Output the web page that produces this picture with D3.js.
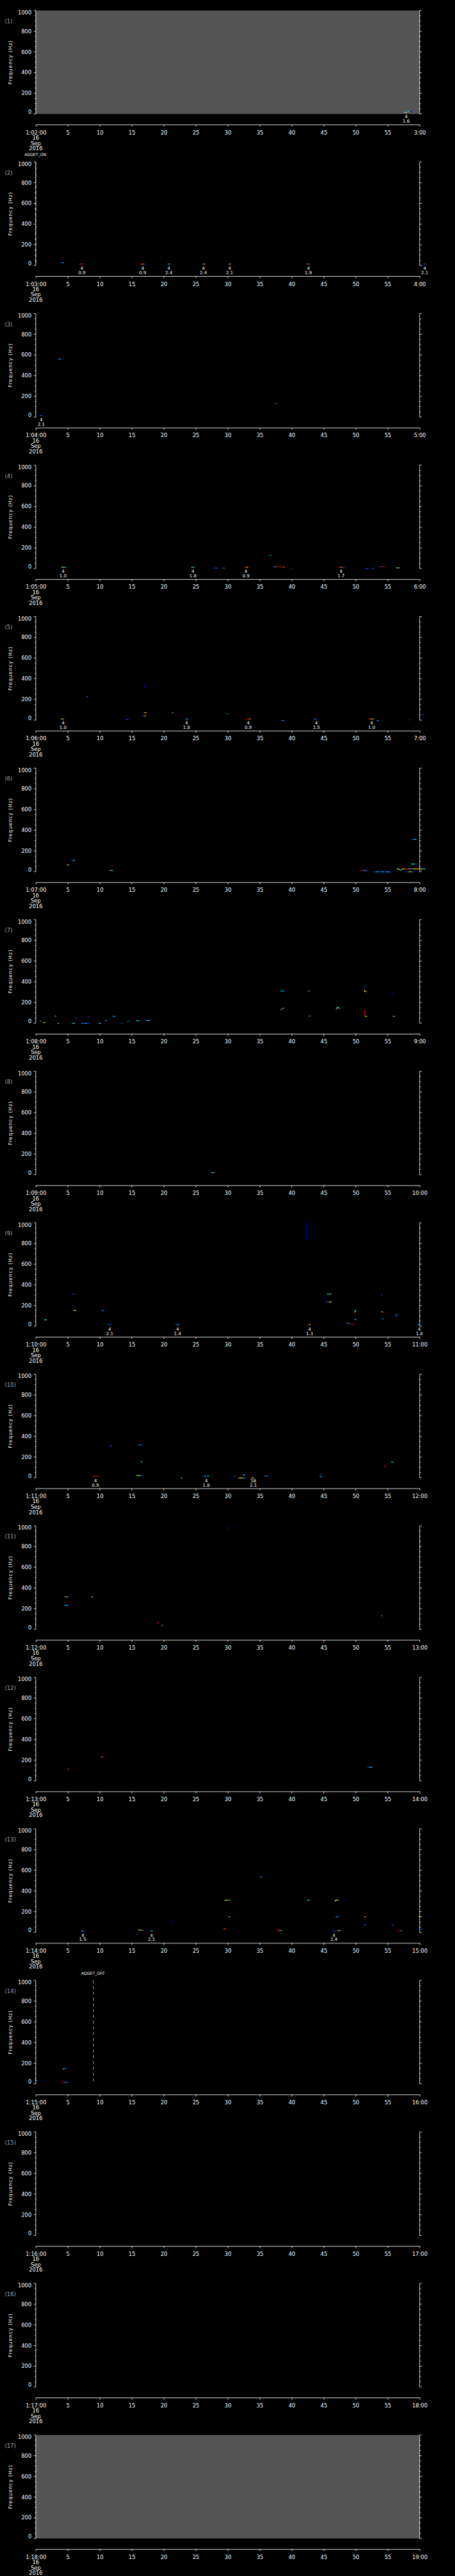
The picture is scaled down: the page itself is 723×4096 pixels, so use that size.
<!DOCTYPE html>
<html>
<head>
<meta charset="utf-8">
<script src="https://cdn.jsdelivr.net/npm/d3@7"></script>
<style>
  html, body { margin: 0; padding: 0; background: #000; }
  svg { display: block; background: #000; }
  text { font-family: "DejaVu Sans", sans-serif; fill: #fff; }
</style>
</head>
<body>
<svg id="chart"></svg>
<script>
// --------------------
// Data
// --------------------
// minute labels at each end of the 17 one-minute panels
const startLabels = ["1:02:00","1:03:00","1:04:00","1:05:00","1:06:00","1:07:00","1:08:00","1:09:00",
  "1:10:00","1:11:00","1:12:00","1:13:00","1:14:00","1:15:00","1:16:00","1:17:00","1:18:00"];
const endLabels = ["3:00","4:00","5:00","6:00","7:00","8:00","9:00","10:00",
  "11:00","12:00","13:00","14:00","15:00","16:00","17:00","18:00","19:00"];
const secTicks = [0, 5, 10, 15, 20, 25, 30, 35, 40, 45, 50, 55, 60];
const dateLines = ["16", "Sep", "2016"];
const freqTicks = d3.range(0, 1001, 50);
const greyPanels = [1, 17];   // panels with no data (shaded)

// tracks: [t0 (s), f0 (Hz), t1, f1, amplitude levels 0..6 along the track]
const tracks1 = [[57.5,15,58.1,15,"245"],[58.2,23,58.8,23,"210"]];
const tracks2 = [[3.9,27,4.35,27,"12"],[6.75,14,7.6,14,"661"],[16.3,14,17.1,14,"651"],[20.6,14,21.0,14,"2"],
  [26.05,14,26.5,14,"245"],[30.1,14,30.5,14,"654"],[42.3,14,42.9,14,"651"],[60.6,14,61.0,14,"1"]];
const tracks3 = [[0.63,15,1.09,15,"1"],[3.26,558,3.9,562,"012"],[37.3,131,37.8,128,"61"]];
const tracks4 = [[3.94,13,4.76,13,"342"],[24.3,13,24.8,13,"24"],[27.9,4,28.5,4,"1"],[29.2,4,29.5,4,"12"],
  [32.6,13,33.2,13,"654"],[36.5,129,36.8,129,"12"],[37.2,17,37.6,17,"12"],[37.6,20,38.4,20,"66"],
  [38.4,15,38.9,15,"65"],[39.8,0,40.0,0,"1"],[47.2,13,48.3,13,"651"],[51.5,0,52.0,0,"1"],[52.5,0,52.8,0,"1"],
  [53.7,17,54.0,17,"1"],[54.0,21,54.6,21,"6"],[56.3,7,57.0,7,"241"]];
const tracks5 = [[3.9,11,4.44,11,"435"],[7.84,225,8.1,225,"12"],[14.1,6,14.5,6,"1"],[16.7,41,17.2,41,"14"],
  [16.9,71,17.3,71,"54"],[17.0,348,17.0,305,"0"],[21.2,71,21.5,71,"653"],[23.3,11,23.8,11,"12"],
  [29.8,64,30.1,60,"21"],[32.85,11,33.6,11,"65"],[38.3,-5,38.8,-5,"12"],[43.5,11,44.0,11,"21"],
  [52.0,11,52.8,11,"654"],[53.2,-5,53.6,-5,"12"],[58.4,2,58.6,2,"1"],[60.4,52,60.7,52,"1"]];
const tracks6 = [[0.45,56,0.68,56,"0"],[4.85,70,5.17,61,"34"],[5.5,110,6.1,110,"12"],[11.4,11,12.1,11,"632"],
  [50.6,11,51.9,11,"6621"],[52.8,-2,55.6,-2,"1212121"],[56.4,32,57.2,11,"343"],[57.2,26,60.9,26,"46524542"],
  [57.8,-2,59.2,-2,"141"],[58.6,73,59.6,73,"231"],[58.7,312,59.5,312,"12"]];
const tracks7 = [[0.63,19,0.95,19,"31"],[1.13,6,1.5,6,"34"],[3.0,69,3.2,69,"43"],[3.4,-2,3.6,-2,"4"],
  [5.7,-2,6.1,-2,"23"],[6.2,45,6.4,45,"1"],[7.2,-2,8.3,-2,"2121"],[8.2,58,8.4,58,"1"],[9.8,-2,10.2,-2,"2"],
  [10.8,26,11.1,26,"12"],[11.9,66,12.4,66,"12"],[13.3,-2,13.6,-2,"1"],[14.3,19,14.6,19,"21"],
  [15.7,24,16.2,24,"32"],[17.1,27,17.9,25,"122"],
  [38.2,133,38.6,133,"56"],[38.6,133,38.6,146,"2"],[38.6,146,38.9,146,"21"],[38.2,312,38.9,309,"221"],
  [42.5,310,42.8,310,"56"],[42.8,318,42.8,300,"1"],[42.6,69,42.95,69,"12"],
  [46.8,133,47.1,133,"6"],[47.1,133,47.1,154,"3"],[47.1,154,47.4,154,"3"],[47.4,142,47.6,142,"2"],
  [51.3,354,51.6,354,"1"],[51.4,322,51.4,305,"4"],[51.4,305,51.7,305,"4"],
  [51.4,129,51.4,66,"6"],[51.4,66,51.8,66,"34"],[55.75,279,55.9,310,"0"],[55.8,66,56.1,66,"43"]];
const tracks8 = [[27.3,19,27.9,19,"124"]];
const tracks9 = [[1.3,62,1.7,62,"23"],[5.75,309,6.1,309,"1"],[5.8,152,6.3,152,"34"],[10.3,152,10.7,152,"21"],
  [11.2,15,11.8,15,"1"],[21.8,15,22.4,15,"12"],[42.3,1000,42.3,833,"0"],[42.5,15,43.0,15,"564"],
  [45.5,311,46.2,311,"23"],[45.35,234,46.26,234,"1144"],[48.5,28,49.0,28,"12"],[49.0,22,49.4,22,"66"],
  [49.4,19,49.75,19,"6"],[49.7,129,49.8,129,"6"],[49.9,133,49.9,152,"3"],[49.9,152,50.1,152,"3"],
  [49.8,68,50.2,62,"251"],[54.0,139,54.4,139,"41"],[54.0,305,54.2,305,"1"],[54.1,71,54.4,71,"21"],
  [56.1,98,56.5,114,"12"],[59.7,15,60.2,15,"21"]];
const tracks10 = [[8.9,15,9.8,15,"666"],[11.5,295,11.9,311,"01"],[15.7,21,16.7,21,"3421"],[16.1,316,16.7,316,"21"],
  [16.4,154,16.7,154,"2"],[22.65,-2,22.9,-2,"2"],[26.1,15,27.1,15,"1212"],[30.9,15,31.3,15,"1"],
  [31.6,-2,32.8,-2,"54421"],[32.35,28,32.7,28,"32"],[33.7,-2,34.1,-2,"4"],[35.8,18,36.4,15,"21"],
  [44.3,32,44.7,32,"61"],[44.4,9,44.7,9,"2"],[54.4,109,54.8,109,"6"],[55.55,152,55.9,152,"23"]];
const tracks11 = [[4.35,315,5.0,315,"642"],[5.0,315,5.0,298,"1"],[4.4,232,5.07,232,"122"],[8.65,313,9.0,313,"45"],
  [18.9,64,19.3,64,"6"],[19.7,37,19.9,37,"35"],[30.0,953,30.0,1000,"0"],[30.0,1000,30.1,1000,"0"],
  [54.0,129,54.2,129,"41"]];
const tracks12 = [[4.9,112,5.2,112,"65"],[10.2,230,10.6,230,"56"],[51.9,125,51.9,131,"1"],[51.9,131,52.6,131,"122"]];
const tracks13 = [[7.07,13,7.7,13,"21"],[16.0,23,16.5,23,"45"],[16.5,19,17.0,19,"21"],[17.9,13,18.3,13,"2"],
  [21.0,124,21.4,97,"0"],[29.3,34,29.7,32,"65"],[29.5,311,30.4,311,"4432"],[30.1,152,30.4,152,"23"],
  [35.0,536,35.4,536,"12"],[37.6,22,38.0,22,"66"],[38.0,18,38.5,18,"52"],[42.4,311,42.8,311,"23"],
  [46.4,13,46.85,13,"1"],[46.8,298,46.8,311,"4"],[46.8,311,47.3,311,"4"],[46.8,148,47.3,152,"12"],
  [47.05,17,47.85,15,"541"],[51.25,152,51.6,152,"64"],[51.2,71,51.6,71,"1"],[55.6,71,55.9,71,"1"],
  [56.45,17,57.2,15,"662"],[59.85,152,60.35,152,"45"],[59.85,32,60.4,32,"1"]];
const tracks14 = [[-0.1,34,0.36,34,"21"],[4.3,135,4.3,150,"5"],[4.3,150,4.7,150,"12"],[4.0,17,4.5,17,"66"],
  [4.5,15,5.07,15,"21"]];
const tracks15 = [];
const tracks16 = [];
const tracks17 = [];

// picks: [t (s), count, value] written under the plot
const picks1 = [[57.9,"4","1.6"]];
const picks2 = [[7.2,"4","0.9"],[16.7,"4","0.9"],[20.8,"4","2.4"],[26.2,"4","2.4"],[30.3,"4","2.1"],[42.6,"4","1.9"],[60.8,"4","2.1"]];
const picks3 = [[0.86,"4","2.1"]];
const picks4 = [[4.26,"4","1.0"],[24.56,"4","1.8"],[32.85,"4","0.9"],[47.7,"4","1.7"]];
const picks5 = [[4.26,"4","1.0"],[23.56,"4","1.8"],[33.2,"4","0.9"],[43.86,"4","1.5"],[52.5,"4","1.0"]];
const picks9 = [[11.55,"4","2.1"],[22.16,"4","1.4"],[42.8,"4","1.3"],[59.95,"4","1.8"]];
const picks10 = [[9.33,"4","0.9"],[26.64,"4","1.8"],[34.0,"16","2.1"]];
const picks13 = [[7.34,"4","1.5"],[18.1,"4","2.1"],[46.6,"4","2.4"]];

// detector on/off events: [panel, t (s), label]
const events = [[2, 0, "ADDET_ON"], [14, 9.0, "ADDET_OFF"]];

const tracks = [tracks1,tracks2,tracks3,tracks4,tracks5,tracks6,tracks7,tracks8,tracks9,
  tracks10,tracks11,tracks12,tracks13,tracks14,tracks15,tracks16,tracks17];
const picks = [picks1,picks2,picks3,picks4,picks5,[],[],[],picks9,picks10,[],[],picks13,[],[],[],[]];

// --------------------
// Layout (drawn in reference units, scaled by viewBox)
// --------------------
const W = 1024, H = 5802;
const top0 = 23.7, pitch = 341.3, plotH = 233;
const left = 80.5, right = 944.5;

const svg = d3.select("#chart")
  .attr("width", 723)
  .attr("height", 4096)
  .attr("viewBox", `0 0 ${W} ${H}`);

const x = d3.scaleLinear().domain([0, 60]).range([left, right]);
const y = d3.scaleLinear().domain([0, 1000]).range([plotH, 0]);

const jet = d3.scaleLinear()
  .domain([0, 1, 2, 3, 4, 5, 6])
  .range(["#0000b4", "#0050ff", "#00d8ff", "#50ff90", "#f0f000", "#ff8c00", "#e00000"]);

startLabels.forEach((lab, i) => {
  const n = i + 1;
  const g = svg.append("g").attr("transform", `translate(0,${top0 + i * pitch})`);

  if (greyPanels.includes(n)) {
    g.append("rect")
      .attr("x", left).attr("y", 0)
      .attr("width", right - left).attr("height", plotH)
      .attr("fill", "#555");
  }

  // left & right frequency axes
  [[left, -1], [right, 1]].forEach(([ax, dir]) => {
    g.append("line")
      .attr("x1", ax).attr("x2", ax).attr("y1", 0).attr("y2", plotH)
      .attr("stroke", "#fff").attr("stroke-width", 1.2);
    g.selectAll(null)
      .data(freqTicks)
      .join("line")
        .attr("x1", ax)
        .attr("x2", d => ax + dir * (d % 200 === 0 ? 4.5 : 2.5))
        .attr("y1", d => y(d)).attr("y2", d => y(d))
        .attr("stroke", "#fff").attr("stroke-width", 1.2);
  });

  g.selectAll(null)
    .data(freqTicks.filter(d => d % 200 === 0))
    .join("text")
      .attr("x", left - 9.5)
      .attr("y", d => y(d) + (d === 0 ? -4.4 : d === 1000 ? 4.6 : 0))
      .attr("text-anchor", "end")
      .attr("dominant-baseline", "central")
      .attr("font-size", 12)
      .text(d => d);

  g.append("text")
    .attr("transform", `translate(23,${plotH / 2}) rotate(-90)`)
    .attr("text-anchor", "middle")
    .attr("dominant-baseline", "central")
    .attr("font-size", 11)
    .attr("letter-spacing", 1.2)
    .text("Frequency (Hz)");

  g.append("text")
    .attr("x", 11).attr("y", 24)
    .attr("dominant-baseline", "central")
    .attr("font-size", 12)
    .style("fill", "#aaa")
    .text(`(${n})`);

  // spectral tracks
  tracks[i].forEach(([t0, f0, t1, f1, lv]) => {
    const k = lv.length;
    for (let j = 0; j < k; j++) {
      const a = j / k, b = (j + 1) / k;
      g.append("line")
        .attr("x1", x(t0 + (t1 - t0) * a)).attr("x2", x(t0 + (t1 - t0) * b))
        .attr("y1", y(f0 + (f1 - f0) * a)).attr("y2", y(f0 + (f1 - f0) * b))
        .attr("stroke", jet(+lv[j]))
        .attr("stroke-width", 1.7);
    }
  });

  // picks under the plot
  picks[i].forEach(([t, cnt, val]) => {
    g.append("text").attr("x", x(t)).attr("y", plotH + 6.5)
      .attr("text-anchor", "middle").attr("dominant-baseline", "central")
      .attr("font-size", 10).text(cnt);
    g.append("text").attr("x", x(t)).attr("y", plotH + 16.2)
      .attr("text-anchor", "middle").attr("dominant-baseline", "central")
      .attr("font-size", 10).text(val);
  });

  // detector events
  events.filter(e => e[0] === n).forEach(([, t, name]) => {
    g.append("line")
      .attr("x1", x(t)).attr("x2", x(t)).attr("y1", 0).attr("y2", plotH)
      .attr("stroke", "#fff").attr("stroke-width", 1)
      .attr("stroke-dasharray", "6,7");
    g.append("text").attr("x", x(t) - 1).attr("y", -17)
      .attr("text-anchor", "middle").attr("dominant-baseline", "central")
      .attr("font-size", 9).text(name);
  });

  // time axis
  const axisY = plotH + 24;
  const tAxis = d3.axisBottom(x)
    .tickValues(secTicks)
    .tickSize(4.5)
    .tickSizeOuter(0)
    .tickFormat(d => d === 0 ? lab : d === 60 ? endLabels[i] : d);
  const ag = g.append("g").attr("transform", `translate(0,${axisY})`).call(tAxis);
  ag.select(".domain").attr("stroke", "#fff").attr("stroke-width", 1.2);
  ag.selectAll(".tick line").attr("stroke", "#fff").attr("stroke-width", 1.2);
  ag.selectAll(".tick text")
    .attr("y", 17.6).attr("dy", null)
    .attr("dominant-baseline", "central")
    .attr("font-family", "DejaVu Sans")
    .attr("font-size", 12)
    .style("fill", "#fff");

  dateLines.forEach((s, k) => {
    g.append("text")
      .attr("x", x(0)).attr("y", axisY + 29.5 + k * 12.1)
      .attr("text-anchor", "middle").attr("dominant-baseline", "central")
      .attr("font-size", 12).text(s);
  });
});
</script>
</body>
</html>
